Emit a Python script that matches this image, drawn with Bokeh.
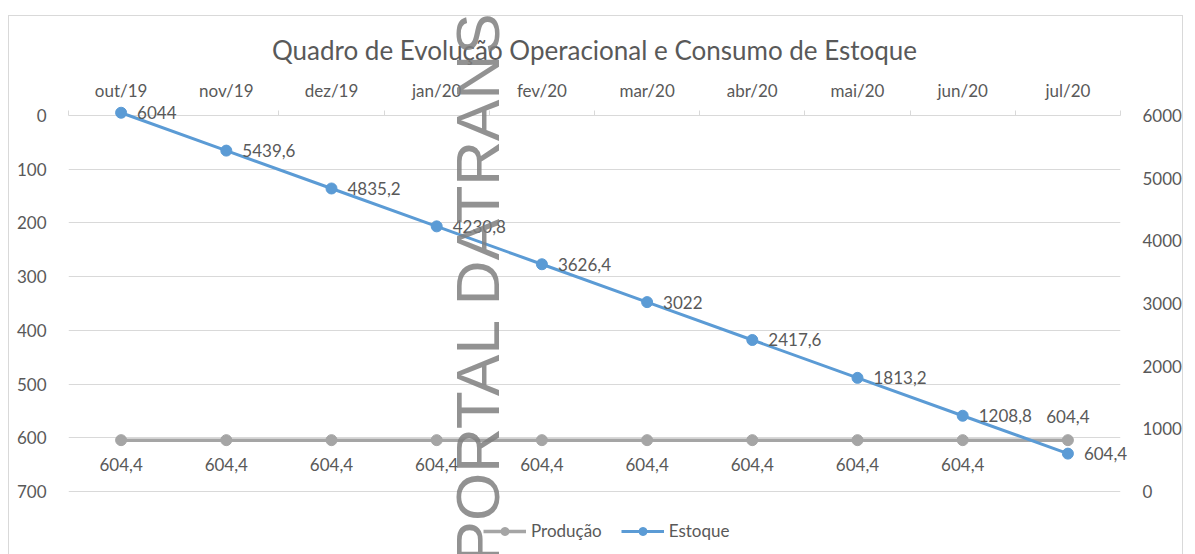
import math
from bokeh.plotting import figure
from bokeh.models import (Range1d, LinearAxis, FixedTicker, Legend, LegendItem,
                          ColumnDataSource)
from bokeh.core.properties import value
from bokeh.embed import file_html
from bokeh.resources import INLINE

# ---- data ----
months = ["out/19", "nov/19", "dez/19", "jan/20", "fev/20",
          "mar/20", "abr/20", "mai/20", "jun/20", "jul/20"]
producao = [604.4, 604.4, 604.4, 604.4, 604.4, 604.4, 604.4, 604.4, 604.4, 604.4]
estoque = [6044, 5439.6, 4835.2, 4230.8, 3626.4, 3022, 2417.6, 1813.2, 1208.8, 604.4]
left_ticks = [0, 100, 200, 300, 400, 500, 600, 700]
right_ticks = [0, 1000, 2000, 3000, 4000, 5000, 6000]
chart_title = "Quadro de Evolução Operacional e Consumo de Estoque"
series_names = ["Produção", "Estoque"]
watermark = "PORTAL DATRANSP"

FONT = "Lato"
TXT = "#595959"
GRID = "#d9d9d9"
GRAY = "#A5A5A5"
BLUE = "#5B9BD5"
FS = "17px"


def fmt(v):
    return f"{v:g}".replace(".", ",")


xs = list(range(len(months)))

# layout: plotting area (axes span) is 376px tall, the frame continues
# below it down to the legend so the legend can sit inside the frame
W, H = 1175, 539
BL, BR, BT, BB = 59, 61, 99, 4
frame_h = H - BT - BB
axis_h = 376.0
scale = frame_h / axis_h
left_end = left_ticks[-1] * scale
right_start = right_ticks[-1] - right_ticks[-1] * scale

p = figure(width=W, height=H, output_backend="svg", toolbar_location=None,
           x_range=Range1d(-0.5, len(months) - 0.5),
           y_range=Range1d(left_end, left_ticks[0]),
           x_axis_location=None, y_axis_location="left",
           min_border_left=BL, min_border_right=BR,
           min_border_top=BT, min_border_bottom=BB)
p.outline_line_color = None
p.background_fill_color = "white"
p.border_fill_color = "white"
p.styles = {"margin-left": "8px", "margin-top": "15px",
            "border": "1px solid #d9d9d9", "border-bottom": "none"}

# title
p.title.text = chart_title
p.title.align = "center"
p.title.text_font = FONT
p.title.text_font_size = "26px"
p.title.text_font_style = "normal"
p.title.text_color = TXT
p.title.standoff = 22

# grids
p.xgrid.visible = False
p.ygrid.ticker = FixedTicker(ticks=left_ticks)
p.ygrid.grid_line_color = GRID

# left axis
ya = p.yaxis[0]
ya.ticker = FixedTicker(ticks=left_ticks)
ya.axis_line_color = None
ya.major_tick_line_color = None
ya.minor_tick_line_color = None
ya.major_label_text_font = FONT
ya.major_label_text_font_size = FS
ya.major_label_text_color = TXT
ya.major_label_standoff = 16

# right axis
p.extra_y_ranges = {"right": Range1d(right_start, right_ticks[-1])}
ra = LinearAxis(y_range_name="right", ticker=FixedTicker(ticks=right_ticks))
ra.axis_line_color = None
ra.major_tick_line_color = None
ra.minor_tick_line_color = None
ra.major_label_text_font = FONT
ra.major_label_text_font_size = FS
ra.major_label_text_color = TXT
ra.major_label_standoff = 16
p.add_layout(ra, "right")

# top category axis
ta = LinearAxis(ticker=FixedTicker(ticks=xs, minor_ticks=[i - 0.5 for i in range(len(months) + 1)]),
                major_label_overrides={i: m for i, m in enumerate(months)})
ta.axis_line_color = GRID
ta.major_tick_line_color = None
ta.minor_tick_line_color = GRID
ta.minor_tick_out = 5
ta.minor_tick_in = 0
ta.major_label_text_font = FONT
ta.major_label_text_font_size = FS
ta.major_label_text_color = TXT
ta.major_label_standoff = 9
p.add_layout(ta, "above")

# series
src_p = ColumnDataSource(dict(x=xs, y=producao, lab=[fmt(v) for v in producao],
                              yo=[24] * (len(xs) - 1) + [-24]))
src_e = ColumnDataSource(dict(x=xs, y=estoque, lab=[fmt(v) for v in estoque]))

pl = p.line("x", "y", source=src_p, line_color=GRAY, line_width=3.5)
pp = p.scatter("x", "y", source=src_p, size=11, fill_color=GRAY, line_color=GRAY)
el = p.line("x", "y", source=src_e, y_range_name="right", line_color=BLUE, line_width=3,
            level="overlay")
ep = p.scatter("x", "y", source=src_e, y_range_name="right", size=11, fill_color=BLUE,
               line_color=BLUE, level="overlay")

p.text("x", "y", text="lab", source=src_p, y_offset="yo", text_align="center",
       text_baseline="middle", text_font=value(FONT), text_font_size=FS, text_color=TXT,
       level="overlay")
p.text("x", "y", text="lab", source=src_e, y_range_name="right", x_offset=16,
       text_align="left", text_baseline="middle", text_font=value(FONT),
       text_font_size=FS, text_color=TXT, level="overlay")

# watermark (as text glyph at overlay level)
p.text(x=[3.386], y=[832], text=[watermark], angle=math.pi / 2,
       text_font=value("Liberation Sans"), text_font_size="62px",
       text_color="#7f7f7f", text_alpha=0.85, text_baseline="alphabetic",
       text_align="left", level="overlay")

# legend
legend = Legend(items=[LegendItem(label=series_names[0], renderers=[pl, pp]),
                       LegendItem(label=series_names[1], renderers=[el, ep])],
                orientation="horizontal", location=(415, 10))
legend.border_line_color = None
legend.background_fill_alpha = 0
legend.glyph_width = 43
legend.glyph_height = 20
legend.label_height = 20
legend.label_standoff = 5
legend.spacing = 19
legend.padding = 0
legend.margin = 0
legend.label_text_font = FONT
legend.label_text_font_size = FS
legend.label_text_color = TXT
p.add_layout(legend, "center")

open("out.html", "w").write(file_html(p, INLINE))
